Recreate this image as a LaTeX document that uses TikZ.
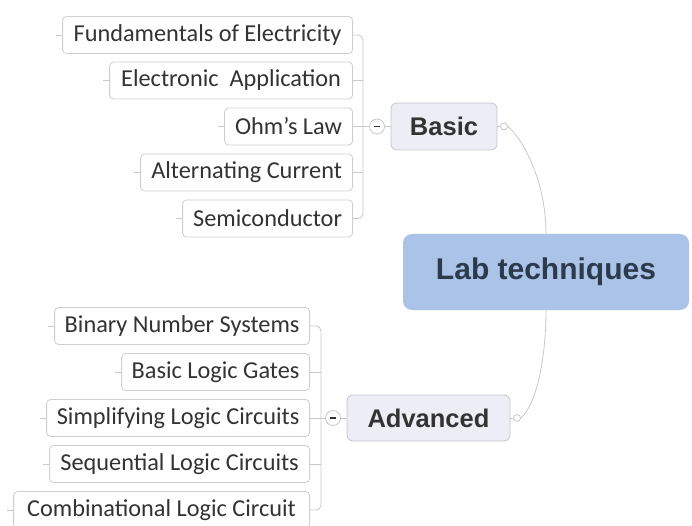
\documentclass[tikz,border=0pt]{standalone}
\usepackage{fontspec}
\setmainfont{Carlito}
\newfontfamily\headfont{Liberation Sans}
\definecolor{leafborder}{HTML}{CFCFCF}
\definecolor{connc}{HTML}{C8C8C8}
\definecolor{leaftext}{HTML}{333333}
\definecolor{midfill}{HTML}{ECEDF5}
\definecolor{midborder}{HTML}{C4C5CE}
\definecolor{rootfill}{HTML}{ABC3E6}
\definecolor{roottext}{HTML}{2C3A4E}
\tikzset{
  leaf/.style={draw=leafborder, fill=white, rounded corners=4pt, line width=0.8pt,
    font=\fontsize{24.3}{27}\selectfont, text=leaftext, minimum height=37pt,
    inner sep=0pt, anchor=east},
  midnode/.style={draw=midborder, fill=midfill, rounded corners=6pt, line width=0.8pt,
    font=\headfont\bfseries\fontsize{25.5}{28}\selectfont, text=leaftext, inner sep=0pt},
  rootnode/.style={fill=rootfill, rounded corners=9pt, inner sep=0pt,
    font=\headfont\bfseries\fontsize{30}{33}\selectfont, text=roottext},
  conn/.style={draw=connc, line width=0.8pt},
  collapse/.style={circle, draw=connc, fill=white, line width=0.8pt, minimum size=15pt, inner sep=0pt},
  endc/.style={circle, draw=connc, fill=white, line width=0.8pt, minimum size=7pt, inner sep=0pt},
  minus/.style={draw=leaftext, line width=1.3pt}
}
\begin{document}
\begin{tikzpicture}[x=1pt,y=1pt]
\useasboundingbox (0,0) rectangle (692,-526);
% root
\node[rootnode, minimum width=286pt, minimum height=76pt] (root) at (546,-272) {Lab techniques};
% middle nodes
\node[midnode, minimum width=106pt, minimum height=47pt] (basic) at (444,-126.5) {Basic};
\node[midnode, minimum width=163pt, minimum height=46pt] (adv) at (428.5,-418) {Advanced};
% collapse circles
\node[collapse] (cb) at (377,-126.5) {};
\node[collapse] (ca) at (333,-418) {};
\draw[minus] ([xshift=-3pt]cb.center) -- ([xshift=3pt]cb.center);
\draw[minus] ([xshift=-3pt]ca.center) -- ([xshift=3pt]ca.center);
% end circles
\node[endc] (eb) at (504,-126.5) {};
\node[endc] (ea) at (517,-418) {};
% top leaves
\node[leaf, minimum width=290pt] (f1) at (353,-35) {Fundamentals of Electricity};
\node[leaf, minimum width=243pt] (f2) at (353,-80.5) {Electronic\ \ Application};
\node[leaf, minimum width=128pt] (f3) at (353,-126.5) {Ohm’s Law};
\node[leaf, minimum width=212pt] (f4) at (353,-172.5) {Alternating Current};
\node[leaf, minimum width=170pt] (f5) at (353,-218.5) {Semiconductor};
% bottom leaves
\node[leaf, minimum width=255pt] (a1) at (310,-326) {Binary Number Systems};
\node[leaf, minimum width=188pt] (a2) at (310,-372) {Basic Logic Gates};
\node[leaf, minimum width=263pt] (a3) at (310,-418) {Simplifying Logic Circuits};
\node[leaf, minimum width=260pt] (a4) at (310,-464) {Sequential Logic Circuits};
\node[leaf, minimum width=296pt] (a5) at (310,-510) {Combinational Logic Circuit};
% trunks
\coordinate (tb) at (363,-126.5);
\coordinate (ta) at (321,-418);
\draw[conn, rounded corners=5pt] (f1.east) -| (tb) |- (f5.east);
\draw[conn] (f2.east) -- (f2.east -| tb);
\draw[conn] (f4.east) -- (f4.east -| tb);
\draw[conn] (f3.east) -- (cb.west);
\draw[conn] (cb.east) -- (basic.west);
\draw[conn, rounded corners=5pt] (a1.east) -| (ta) |- (a5.east);
\draw[conn] (a2.east) -- (a2.east -| ta);
\draw[conn] (a4.east) -- (a4.east -| ta);
\draw[conn] (a3.east) -- (ca.west);
\draw[conn] (ca.east) -- (adv.west);
% left stubs
\foreach \n in {f1,f2,f3,f4,f5,a1,a2,a3,a4,a5}
  \draw[conn] (\n.west) -- ++(-6,0);
% curves to root
\draw[conn] (basic.east) -- (eb.west);
\draw[conn] (adv.east) -- (ea.west);
\draw[conn] (eb.east) .. controls (522,-138) and (546,-180) .. (root.north);
\draw[conn] (ea.east) .. controls (536,-405) and (546,-360) .. (root.south);
\end{tikzpicture}
\end{document}
